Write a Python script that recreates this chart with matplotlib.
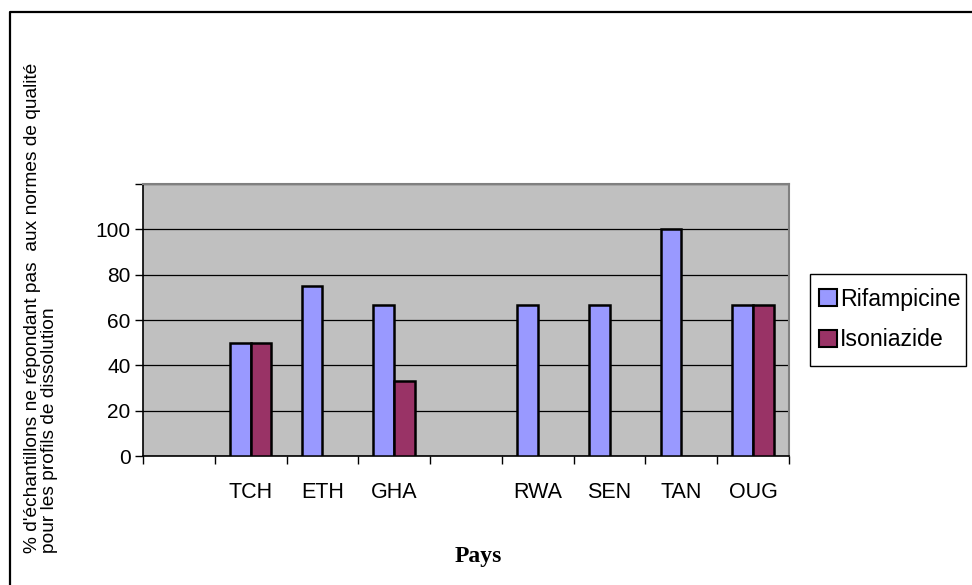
import numpy as np
import matplotlib
matplotlib.use("Agg")
import matplotlib.pyplot as plt
from matplotlib.patches import Patch, Rectangle
from matplotlib.lines import Line2D

# Data: percentage of samples failing dissolution-profile quality standards
pays = ["", "TCH", "ETH", "GHA", "", "RWA", "SEN", "TAN", "OUG"]
rifampicine = [np.nan, 50, 75, 66.7, np.nan, 66.7, 66.7, 100, 66.7]
isoniazide = [np.nan, 50, 0, 33.3, np.nan, 0, 0, 0, 66.7]
y_ticks = [0, 20, 40, 60, 80, 100, 120]
y_tick_labels = ["0", "20", "40", "60", "80", "100", ""]

W, H = 972, 585
fig = plt.figure(figsize=(W / 100, H / 100), dpi=100)
fig.patch.set_facecolor("white")

sans = "Liberation Sans"
serif = "Liberation Serif"

ax = fig.add_axes([143 / W, 1 - 456 / H, (789 - 143) / W, (456 - 184) / H])
ax.set_facecolor("#C0C0C0")

x = np.arange(len(pays))
bw = 0.29
rif = np.array(rifampicine, dtype=float)
iso = np.array(isoniazide, dtype=float)
rif_mask = np.nan_to_num(rif) > 0
iso_mask = np.nan_to_num(iso) > 0
ax.bar(x[rif_mask] - bw / 2, rif[rif_mask], width=bw, color="#9999FF",
       edgecolor="black", linewidth=1.8, zorder=3)
ax.bar(x[iso_mask] + bw / 2, iso[iso_mask], width=bw, color="#993366",
       edgecolor="black", linewidth=1.8, zorder=3)

ax.set_xlim(-0.5, len(pays) - 0.5)
ax.set_ylim(0, 120)

ax.set_yticks(y_ticks)
ax.set_yticklabels(y_tick_labels, fontfamily=sans, fontsize=15)
ax.yaxis.grid(True, color="black", linewidth=0.9, zorder=1)
ax.set_axisbelow(True)

ax.set_xticks(x)
ax.set_xticklabels(pays, fontfamily=sans, fontsize=15.5)
ax.set_xticks(np.arange(-0.5, len(pays)), minor=True)
ax.tick_params(axis="x", which="major", length=0, pad=18.5)
ax.tick_params(axis="x", which="minor", length=6, width=1, color="black")
ax.tick_params(axis="y", which="major", length=6, width=1, color="black", pad=3)

for side in ("top", "right"):
    ax.spines[side].set_color("#808080")
    ax.spines[side].set_linewidth(1.5)
for side in ("left", "bottom"):
    ax.spines[side].set_color("black")
    ax.spines[side].set_linewidth(1.2)

fig.text(478 / W, 1 - 562 / H, "Pays", fontfamily=serif, fontweight="bold",
         fontsize=17, ha="center", va="baseline")

fig.text(33 / W, 1 - 553 / H,
         "% d'échantillons ne répondant pas  aux normes de qualité",
         rotation=90, ha="center", va="bottom", fontfamily=sans, fontsize=13.8)
fig.text(50 / W, 1 - 553 / H, "pour les profils de dissolution",
         rotation=90, ha="center", va="bottom", fontfamily=sans, fontsize=13.8)

# Legend entries (frameless) inside a hand-sized box
handles = [Patch(facecolor="#9999FF", edgecolor="black", linewidth=1.5),
           Patch(facecolor="#993366", edgecolor="black", linewidth=1.5)]
leg = fig.legend(handles, ["Rifampicine", "Isoniazide"],
                 loc="upper left", bbox_to_anchor=(819 / W, 1 - 288 / H),
                 frameon=False, borderaxespad=0, borderpad=0,
                 handlelength=0.78, handleheight=0.75, handletextpad=0.12,
                 labelspacing=0.75, prop={"family": sans, "size": 16.7})
fig.add_artist(Rectangle((810 / W, 1 - 366 / H), (966 - 810) / W, (366 - 274) / H,
                         transform=fig.transFigure, facecolor="none",
                         edgecolor="black", linewidth=1.0))

# Outer chart frame (left and top edges)
fig.add_artist(Line2D([10 / W, 10 / W, 1.0], [0.0, 1 - 12 / H, 1 - 12 / H],
                      transform=fig.transFigure, color="black", linewidth=1.6))

fig.savefig("out.png", dpi=100)
